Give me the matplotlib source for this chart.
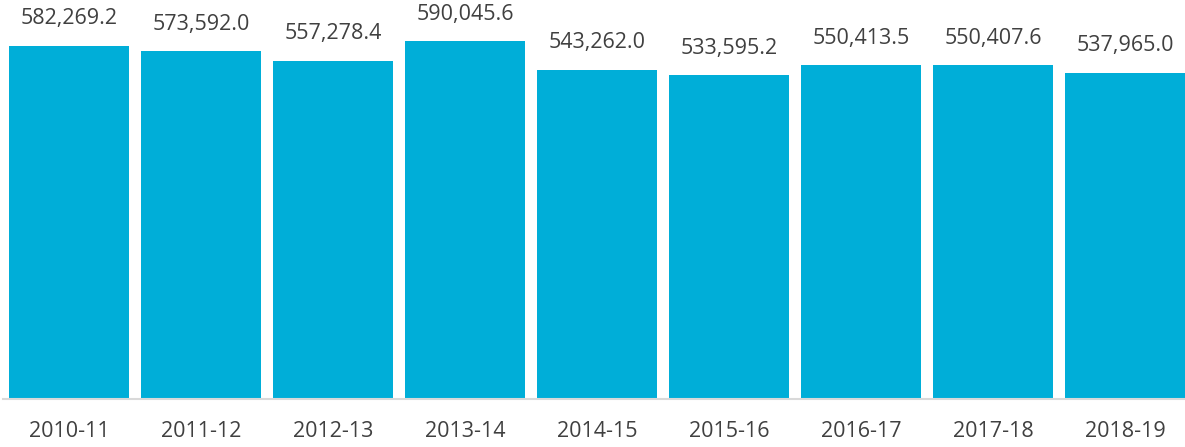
import matplotlib
matplotlib.use("Agg")
import matplotlib.pyplot as plt

years = ["2010-11", "2011-12", "2012-13", "2013-14", "2014-15",
         "2015-16", "2016-17", "2017-18", "2018-19"]
values = [582269.2, 573592.0, 557278.4, 590045.6, 543262.0,
          533595.2, 550413.5, 550407.6, 537965.0]

BAR_COLOR = "#00AED8"
TEXT_COLOR = "#404040"

plt.rcParams["font.family"] = ["Open Sans", "DejaVu Sans"]

fig = plt.figure(figsize=(11.85, 4.47), dpi=100)
ax = fig.add_axes([3 / 1185, 48 / 447, 1182 / 1185, 399 / 447])

positions = list(range(len(years)))
ax.bar(positions, values, width=120 / 132, color=BAR_COLOR)

for x, v in zip(positions, values):
    ax.annotate(f"{v:,.1f}", (x, v), xytext=(0, 12), textcoords="offset points",
                ha="center", va="bottom", fontsize=15.5, color=TEXT_COLOR)

ax.set_xlim(-0.5, (1185 - 69) / 132)
ax.set_ylim(0, 658000)
ax.set_xticks(positions)
ax.set_xticklabels(years, fontsize=15.5, color=TEXT_COLOR)
ax.tick_params(axis="x", length=0, pad=16)
ax.set_yticks([])

for side in ("top", "left", "right"):
    ax.spines[side].set_visible(False)
ax.spines["bottom"].set_color("#D9D9D9")
ax.spines["bottom"].set_linewidth(1.5)

fig.savefig("out.png", dpi=100)
